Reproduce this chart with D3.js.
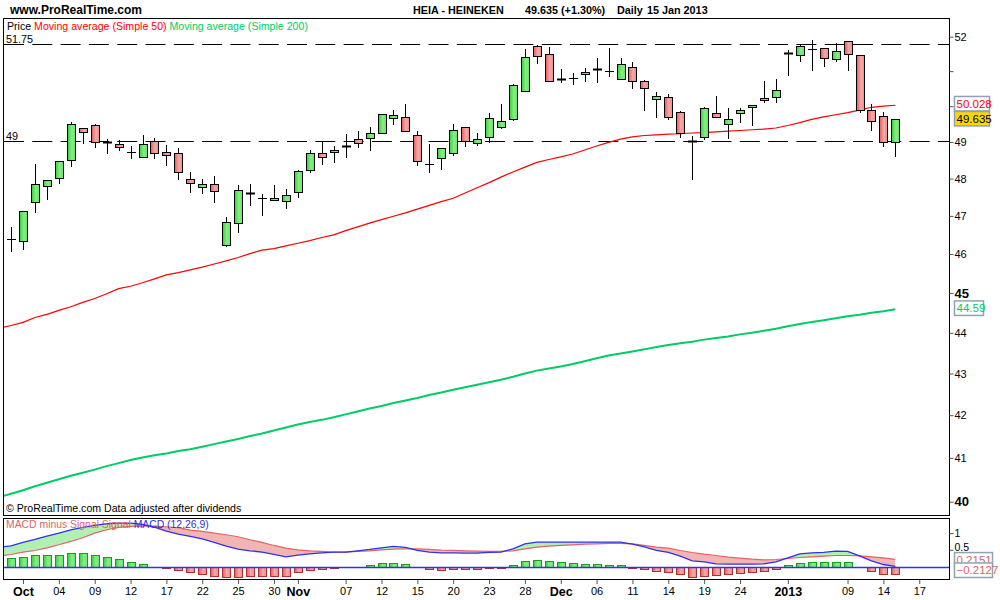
<!DOCTYPE html>
<html><head><meta charset="utf-8">
<script src="https://cdn.jsdelivr.net/npm/d3@7"></script>
<style>
body{margin:0;background:#fff;}
svg{display:block;font-family:"Liberation Sans",Arial,sans-serif;}
</style></head><body>
<svg id="chart" width="1000" height="600"></svg>
<script>
// ---------- DATA ----------
const dates = ["2012-09-27","2012-09-28","2012-10-01","2012-10-02","2012-10-03","2012-10-04","2012-10-05","2012-10-08","2012-10-09","2012-10-10","2012-10-11","2012-10-12","2012-10-15","2012-10-16","2012-10-17","2012-10-18","2012-10-19","2012-10-22","2012-10-23","2012-10-24","2012-10-25","2012-10-26","2012-10-29","2012-10-30","2012-10-31","2012-11-01","2012-11-02","2012-11-05","2012-11-06","2012-11-07","2012-11-08","2012-11-09","2012-11-12","2012-11-13","2012-11-14","2012-11-15","2012-11-16","2012-11-19","2012-11-20","2012-11-21","2012-11-22","2012-11-23","2012-11-26","2012-11-27","2012-11-28","2012-11-29","2012-11-30","2012-12-03","2012-12-04","2012-12-05","2012-12-06","2012-12-07","2012-12-10","2012-12-11","2012-12-12","2012-12-13","2012-12-14","2012-12-17","2012-12-18","2012-12-19","2012-12-20","2012-12-21","2012-12-24","2012-12-27","2012-12-28","2012-12-31","2013-01-02","2013-01-03","2013-01-04","2013-01-07","2013-01-08","2013-01-09","2013-01-10","2013-01-11","2013-01-14","2013-01-15"];

const open = [null,46.40,46.33,47.38,47.80,48.01,48.50,49.39,49.47,48.99,48.94,48.72,48.58,49.03,48.72,48.69,47.98,47.77,47.85,46.23,46.81,47.61,47.47,47.42,47.39,47.65,48.22,48.69,48.72,48.89,49.08,49.11,49.25,49.67,49.69,49.19,48.39,48.56,48.69,49.41,48.97,49.14,49.43,49.64,50.43,51.74,51.49,50.77,50.79,50.92,51.06,51.00,50.77,51.12,50.71,50.20,50.26,49.84,49.04,49.14,49.81,49.50,49.81,49.98,50.17,50.26,51.51,51.47,51.64,51.67,51.35,51.86,51.47,49.89,49.72,49.00];
const high = [null,46.70,47.13,48.40,47.96,48.48,49.55,49.39,49.51,49.08,49.06,48.90,49.19,49.11,48.92,48.83,48.17,48.00,48.08,46.97,47.83,47.86,47.59,47.83,47.72,48.24,48.79,49.00,48.90,49.23,49.31,49.41,49.78,49.90,50.07,49.31,48.94,48.83,49.51,49.41,49.26,49.82,50.07,50.62,51.65,51.77,51.70,51.07,50.94,51.10,51.39,51.68,51.39,51.26,50.74,50.41,50.34,49.87,49.16,49.99,50.30,49.95,49.96,50.03,50.72,50.77,51.60,51.79,51.90,51.67,51.82,51.86,51.47,50.07,49.85,49.635];
const low = [null,46.09,46.13,47.09,47.46,47.89,48.33,48.97,48.85,48.69,48.79,48.55,48.58,48.55,48.38,47.98,47.63,47.60,47.36,46.20,46.57,47.28,47.02,47.42,47.22,47.50,48.19,48.40,48.44,48.60,48.85,48.77,49.25,49.49,49.30,48.38,48.17,48.27,48.64,48.90,48.92,49.00,49.38,49.62,50.43,51.22,50.71,50.70,50.62,50.73,50.70,50.85,50.77,50.51,49.88,49.69,49.64,49.15,48.00,49.08,49.69,49.11,49.55,49.46,50.11,50.13,50.88,51.28,51.02,51.14,51.28,51.02,49.84,49.32,48.88,48.62];
const close = [null,46.40,47.13,47.85,47.96,48.48,49.50,49.28,49.00,48.98,48.86,48.72,48.94,48.69,48.64,48.17,47.88,47.85,47.66,46.83,47.69,47.60,47.47,47.47,47.55,48.20,48.69,48.58,48.78,48.88,48.97,49.25,49.78,49.75,49.30,48.48,48.39,48.83,49.33,49.03,49.08,49.67,49.58,50.60,51.41,51.44,50.71,50.76,50.79,50.98,51.05,51.00,51.20,50.71,50.51,50.29,49.69,49.25,49.03,49.94,49.69,49.64,49.89,50.03,50.23,50.46,51.50,51.74,51.64,51.38,51.58,51.49,49.90,49.58,49.00,49.635];

const ma50 = [44.11,44.18,44.26,44.38,44.46,44.56,44.65,44.76,44.86,44.98,45.11,45.17,45.26,45.36,45.46,45.52,45.59,45.66,45.74,45.82,45.91,46.01,46.10,46.14,46.21,46.28,46.35,46.43,46.50,46.61,46.71,46.81,46.90,46.99,47.08,47.18,47.28,47.38,47.47,47.61,47.75,47.89,48.04,48.18,48.31,48.44,48.52,48.59,48.67,48.78,48.89,48.99,49.08,49.14,49.18,49.20,49.22,49.23,49.25,49.26,49.28,49.30,49.32,49.34,49.36,49.39,49.46,49.54,49.63,49.70,49.76,49.82,49.89,49.97,50.00,50.028];
const ma200 = [40.10,40.18,40.26,40.35,40.43,40.51,40.59,40.66,40.73,40.81,40.88,40.95,41.01,41.06,41.10,41.16,41.20,41.26,41.32,41.38,41.44,41.51,41.57,41.64,41.71,41.78,41.84,41.89,41.95,42.02,42.09,42.16,42.22,42.29,42.35,42.41,42.48,42.54,42.61,42.67,42.73,42.79,42.85,42.92,43.00,43.07,43.12,43.17,43.23,43.30,43.37,43.44,43.49,43.54,43.59,43.65,43.70,43.74,43.78,43.83,43.87,43.91,43.96,44.00,44.05,44.10,44.16,44.22,44.27,44.31,44.36,44.41,44.45,44.50,44.54,44.59];

const macd = [0.58,0.62,0.72,0.81,0.91,1.00,1.10,1.17,1.23,1.28,1.30,1.30,1.26,1.18,1.06,0.97,0.90,0.83,0.72,0.61,0.52,0.47,0.43,0.36,0.29,0.34,0.38,0.41,0.43,0.43,0.47,0.51,0.56,0.60,0.57,0.48,0.43,0.41,0.41,0.40,0.40,0.42,0.43,0.53,0.68,0.73,0.73,0.73,0.73,0.73,0.73,0.73,0.73,0.67,0.59,0.48,0.42,0.31,0.17,0.14,0.08,0.07,0.07,0.07,0.08,0.14,0.26,0.38,0.41,0.42,0.46,0.45,0.32,0.17,0.06,0.0024];
const signal = [0.31,0.36,0.43,0.48,0.56,0.65,0.75,0.86,1.00,1.10,1.17,1.20,1.21,1.21,1.19,1.16,1.09,1.05,1.00,0.95,0.89,0.80,0.72,0.63,0.55,0.50,0.47,0.45,0.43,0.43,0.45,0.47,0.50,0.52,0.53,0.53,0.51,0.49,0.48,0.47,0.46,0.45,0.45,0.47,0.53,0.58,0.61,0.63,0.65,0.67,0.68,0.69,0.69,0.68,0.63,0.58,0.55,0.48,0.42,0.37,0.33,0.28,0.25,0.22,0.20,0.21,0.24,0.27,0.29,0.31,0.33,0.33,0.32,0.29,0.26,0.2151];
const hist = [null,0.26,0.28,0.34,0.34,0.34,0.40,0.40,0.34,0.28,0.22,0.13,0.07,0.00,-0.03,-0.11,-0.17,-0.23,-0.27,-0.32,-0.30,-0.29,-0.27,-0.27,-0.27,-0.17,-0.11,-0.06,-0.03,0.00,0.00,0.04,0.10,0.10,0.07,0.00,-0.06,-0.09,-0.06,-0.06,-0.06,-0.03,-0.03,0.06,0.16,0.19,0.16,0.13,0.10,0.07,0.07,0.04,0.04,-0.03,-0.06,-0.12,-0.17,-0.23,-0.30,-0.27,-0.24,-0.21,-0.18,-0.15,-0.12,-0.06,0.04,0.10,0.13,0.13,0.13,0.13,0.00,-0.12,-0.21,-0.2127];

const priceLevels = [51.75, 49];
const priceTicks = [40,41,42,43,44,45,46,47,48,49,50,51,52];
const priceTickLabels = ["40","41","42","43","44","45","46","47","48","49","","","52"];
const macdTicks = [0.5, 1];
const macdTickLabels = ["0.5", "1"];
const tickDates = ["2012-10-01","2012-10-04","2012-10-09","2012-10-12","2012-10-17","2012-10-22","2012-10-25","2012-10-30","2012-11-01","2012-11-07","2012-11-12","2012-11-15","2012-11-20","2012-11-23","2012-11-28","2012-12-03","2012-12-06","2012-12-11","2012-12-14","2012-12-19","2012-12-24","2013-01-02","2013-01-09","2013-01-14","2013-01-17"];
const tickLabels = ["Oct","04","09","12","17","22","25","30","Nov","07","12","15","20","23","28","Dec","06","11","14","19","24","2013","09","14","17"];
const monthLabels = ["Oct","Nov","Dec","2013"];

// ---------- SCALES ----------
const svg = d3.select("#chart");
const x = d3.scaleLinear().domain([1, 75]).range([11.05, 895.35]);
const yP = d3.scaleLog().domain([39.678, 52.552]).range([516, 18]);
const yM = d3.scaleLinear().domain([-0.404, 1.452]).range([580, 518]);
const N = dates.length;
const ks = d3.range(N);

function dateIndex(ds) {
  const i = dates.indexOf(ds);
  if (i >= 0) return i;
  let d = new Date(dates[N - 1] + "T00:00:00Z"), t = new Date(ds + "T00:00:00Z"), n = N - 1;
  while (d < t) { d.setUTCDate(d.getUTCDate() + 1); const w = d.getUTCDay(); if (w !== 0 && w !== 6) n++; }
  return n;
}

// ---------- DEFS ----------
const defs = svg.append("defs");
function grad(id, stops) {
  const g = defs.append("linearGradient").attr("id", id).attr("x1", "0%").attr("x2", "100%").attr("y1", "0%").attr("y2", "0%");
  stops.forEach(([o, c]) => g.append("stop").attr("offset", o).attr("stop-color", c));
}
grad("gUp", [["0%", "#3cce3c"], ["55%", "#84f084"], ["100%", "#66e466"]]);
grad("gDn", [["0%", "#e25c5c"], ["55%", "#f8a8a8"], ["100%", "#ee8c8c"]]);
defs.append("clipPath").attr("id", "clipMain").append("rect").attr("x", 4).attr("y", 19).attr("width", 945).attr("height", 496);
defs.append("clipPath").attr("id", "clipMacd").append("rect").attr("x", 4).attr("y", 519).attr("width", 945).attr("height", 61);
defs.append("clipPath").attr("id", "clipAbove").append("path")
  .attr("d", d3.area().x(k => x(k)).y0(k => yM(signal[k])).y1(yM.range()[1])(ks));
defs.append("clipPath").attr("id", "clipBelow").append("path")
  .attr("d", d3.area().x(k => x(k)).y0(k => yM(signal[k])).y1(yM.range()[0])(ks));

// ---------- HEADER ----------
svg.append("text").attr("x", 10).attr("y", 14).attr("font-size", 12).attr("font-weight", "bold").text("www.ProRealTime.com");
const hdr = [["HEIA - HEINEKEN", 413], ["49.635 (+1.30%)", 525], ["Daily", 617], ["15 Jan 2013", 647]];
hdr.forEach(([t, px]) => svg.append("text").attr("x", px).attr("y", 14).attr("font-size", 10.8).attr("font-weight", "bold").text(t));

// ---------- MAIN PANEL ----------
svg.append("rect").attr("x", 3.5).attr("y", 18.5).attr("width", 946).attr("height", 497).attr("fill", "#fff").attr("stroke", "#000");
const gMain = svg.append("g").attr("clip-path", "url(#clipMain)");

priceLevels.forEach(v => {
  const yy = Math.round(yP(v)) - 0.5;
  gMain.append("line").attr("x1", 4).attr("x2", 949).attr("y1", yy).attr("y2", yy)
    .attr("stroke", "#000").attr("stroke-width", 1.2).attr("stroke-dasharray", "20,8.3");
  gMain.append("text").attr("x", 6).attr("y", yy - 2).attr("font-size", 10.8).text(d3.format("")(v));
});

gMain.append("path").attr("d", d3.line().x(k => x(k)).y(k => yP(ma200[k]))(ks))
  .attr("fill", "none").attr("stroke", "#00cc66").attr("stroke-width", 2);
gMain.append("path").attr("d", d3.line().x(k => x(k)).y(k => yP(ma50[k]))(ks))
  .attr("fill", "none").attr("stroke", "#ff0000").attr("stroke-width", 1.2);

ks.forEach(k => {
  if (open[k] == null) return;
  const cx = Math.round(x(k));
  const g = gMain.append("g");
  g.append("line").attr("x1", cx + 0.5).attr("x2", cx + 0.5)
    .attr("y1", Math.round(yP(high[k]))).attr("y2", Math.round(yP(low[k])) + 1)
    .attr("stroke", "#000").attr("stroke-width", 1);
  const yo = yP(open[k]), yc = yP(close[k]);
  if (open[k] === close[k]) {
    const yy = Math.round(yc) + 0.5;
    g.append("line").attr("x1", cx - 4).attr("x2", cx + 5).attr("y1", yy).attr("y2", yy).attr("stroke", "#000").attr("stroke-width", 1);
  } else if (Math.abs(yo - yc) < 1.5) {
    g.append("rect").attr("x", cx - 4).attr("y", Math.round(Math.min(yo, yc)) - 0.5).attr("width", 9).attr("height", 2).attr("fill", "#000");
  } else {
    const t = Math.round(Math.min(yo, yc)) + 0.5, b = Math.round(Math.max(yo, yc)) + 0.5;
    g.append("rect").attr("x", cx - 3.5).attr("y", t).attr("width", 8).attr("height", b - t)
      .attr("fill", close[k] > open[k] ? "url(#gUp)" : "url(#gDn)").attr("stroke", "#000").attr("stroke-width", 1);
  }
});

const leg = svg.append("text").attr("x", 7).attr("y", 29.5).attr("font-size", 10.6);
leg.append("tspan").attr("fill", "#000").text("Price ");
leg.append("tspan").attr("fill", "#ff0000").text("Moving average (Simple 50) ");
leg.append("tspan").attr("fill", "#00cc66").text("Moving average (Simple 200)");
svg.append("text").attr("x", 6).attr("y", 512).attr("font-size", 10.6).text("\u00A9 ProRealTime.com  Data adjusted after dividends");

// price axis
const pAxis = d3.axisRight(yP).tickValues(priceTicks).tickSize(4).tickPadding(1)
  .tickFormat((d, i) => priceTickLabels[i]);
const gPA = svg.append("g").attr("transform", "translate(949.5,0)").call(pAxis);
gPA.select(".domain").remove();
gPA.selectAll(".tick line").attr("stroke", "#555");
gPA.selectAll(".tick text").attr("font-family", "Liberation Sans, Arial, sans-serif").attr("fill", "#000")
  .attr("font-size", d => (d % 5 === 0 ? 13 : 11)).attr("font-weight", d => (d % 5 === 0 ? "bold" : "normal"));

// ---------- MACD PANEL ----------
svg.append("rect").attr("x", 3.5).attr("y", 518.5).attr("width", 946).attr("height", 61).attr("fill", "#fff").attr("stroke", "#000");
const gM = svg.append("g").attr("clip-path", "url(#clipMacd)");
const between = d3.area().x(k => x(k)).y0(k => yM(signal[k])).y1(k => yM(macd[k]));
gM.append("g").attr("clip-path", "url(#clipAbove)").append("path").attr("d", between(ks)).attr("fill", "#b2f0b2");
gM.append("g").attr("clip-path", "url(#clipBelow)").append("path").attr("d", between(ks)).attr("fill", "#f3b4b4");
gM.append("path").attr("d", d3.line().x(k => x(k)).y(k => yM(signal[k]))(ks)).attr("fill", "none").attr("stroke", "#e06464").attr("stroke-width", 1.2);
gM.append("path").attr("d", d3.line().x(k => x(k)).y(k => yM(macd[k]))(ks)).attr("fill", "none").attr("stroke", "#3030f0").attr("stroke-width", 1.3);

ks.forEach(k => {
  const v = hist[k];
  if (v == null || v === 0) return;
  const cx = Math.round(x(k));
  const y0 = Math.round(yM(0)), y1 = Math.round(yM(v));
  const t = Math.min(y0, y1) + 0.5, h = Math.max(1, Math.abs(y1 - y0));
  gM.append("rect").attr("x", cx - 3.5).attr("y", t).attr("width", 8).attr("height", h)
    .attr("fill", v > 0 ? "url(#gUp)" : "url(#gDn)").attr("stroke", v > 0 ? "#1c9a1c" : "#b03030").attr("stroke-width", 1);
});
const yz = Math.round(yM(0)) + 0.5;
gM.append("line").attr("x1", 4).attr("x2", 949).attr("y1", yz).attr("y2", yz).attr("stroke", "#3030f0").attr("stroke-width", 1.3);

const mt = svg.append("text").attr("x", 6).attr("y", 527.5).attr("font-size", 10.4);
mt.append("tspan").attr("fill", "#e06464").text("MACD minus Signal ");
mt.append("tspan").attr("fill", "#e06464").text("Signal ");
mt.append("tspan").attr("fill", "#3030e0").text("MACD (12,26,9)");

const mAxis = d3.axisRight(yM).tickValues(macdTicks).tickSize(4).tickPadding(1).tickFormat((d, i) => macdTickLabels[i]);
const gMA = svg.append("g").attr("transform", "translate(949.5,0)").call(mAxis);
gMA.select(".domain").remove();
gMA.selectAll(".tick line").attr("stroke", "#555");
gMA.selectAll(".tick text").attr("font-family", "Liberation Sans, Arial, sans-serif").attr("font-size", 10.5).attr("fill", "#000")
  .attr("dy", (d) => d === 0.5 ? "0.1em" : "0.32em");

// ---------- VALUE BOXES ----------
function vbox(yc, txt, color, bg, w, minY, maxY) {
  const h = 14.5;
  let top = yc - h / 2;
  if (minY != null) top = Math.max(top, minY);
  if (maxY != null) top = Math.min(top, maxY - h);
  svg.append("rect").attr("x", 954.5).attr("y", top).attr("width", w).attr("height", h)
    .attr("fill", bg).attr("stroke", "#8fa3b3").attr("stroke-width", 1.5);
  svg.append("text").attr("x", 956.5).attr("y", top + 11.3).attr("font-size", 11.5).attr("fill", color).text(txt);
}
const L = N - 1;
vbox(yP(ma50[L]) - 1.5, d3.format(".3f")(ma50[L]), "#ff0000", "#fff", 35);
vbox(yP(close[L]) - 0.5, d3.format(".3f")(close[L]), "#000", "#ffd700", 35, yP(ma50[L]) + 5.8);
vbox(yP(ma200[L]) - 1, d3.format(".2f")(ma200[L]), "#00cc66", "#fff", 29);
vbox(yM(signal[L]) + 0.5, d3.format(".4f")(signal[L]), "#e06464", "#fff", 38);
vbox(yM(hist[L]), d3.format(".4f")(hist[L]), "#e06464", "#fff", 38, null, 577.5);

// ---------- X AXIS ----------
const xAxis = d3.axisBottom(x).tickValues(tickDates.map(dateIndex)).tickSize(4).tickPadding(3)
  .tickFormat((d, i) => tickLabels[i]);
const gX = svg.append("g").attr("transform", "translate(0,580)").call(xAxis);
gX.select(".domain").remove();
gX.selectAll(".tick line").attr("stroke", "#555");
gX.selectAll(".tick text").attr("font-family", "Liberation Sans, Arial, sans-serif").attr("fill", "#000")
  .attr("font-size", (d, i) => monthLabels.includes(tickLabels[i]) ? 12.5 : 11)
  .attr("font-weight", (d, i) => monthLabels.includes(tickLabels[i]) ? "bold" : "normal");
</script>
</body></html>
